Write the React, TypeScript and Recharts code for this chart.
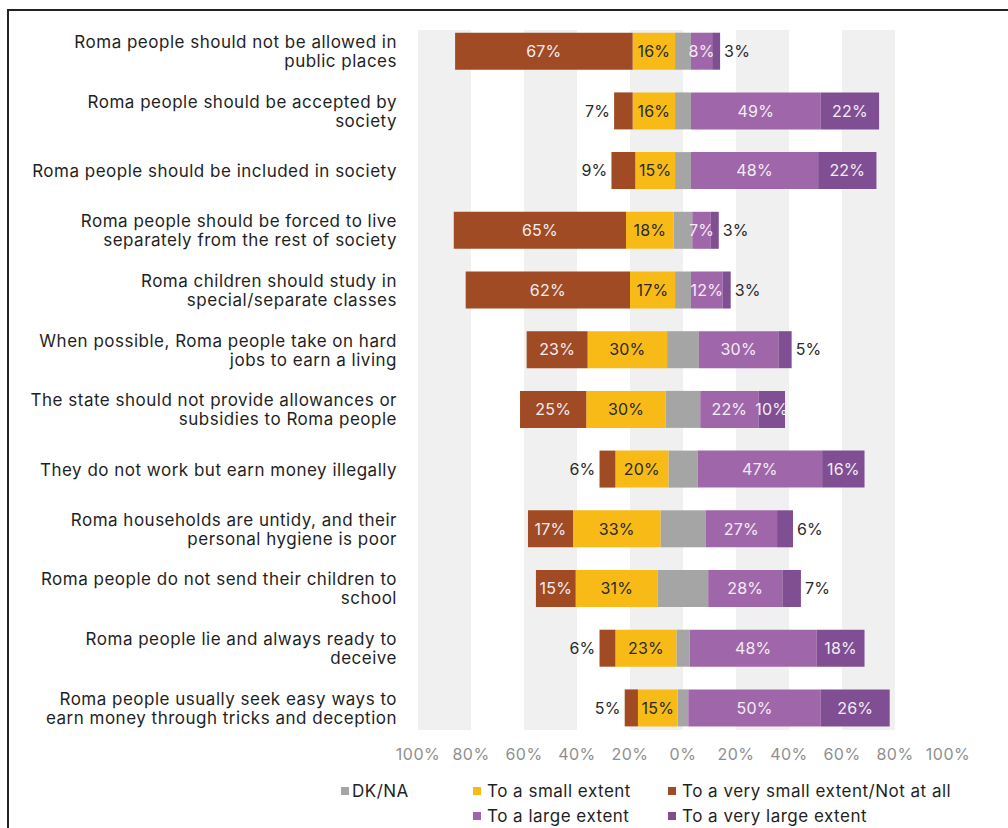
import React from 'react';
import {
  BarChart,
  Bar,
  XAxis,
  YAxis,
  CartesianGrid,
  LabelList,
  Legend,
} from 'recharts';

const categories = [
  'Roma people should not be allowed in\npublic places',
  'Roma people should be accepted by\nsociety',
  'Roma people should be included in society',
  'Roma people should be forced to live\nseparately from the rest of society',
  'Roma children should study in\nspecial/separate classes',
  'When possible, Roma people take on hard\njobs to earn a living',
  'The state should not provide allowances or\nsubsidies to Roma people',
  'They do not work but earn money illegally',
  'Roma households are untidy, and their\npersonal hygiene is poor',
  'Roma people do not send their children to\nschool',
  'Roma people lie and always ready to\ndeceive',
  'Roma people usually seek easy ways to\nearn money through tricks and deception',
];

const verySmallExtent = [67, 7, 9, 65, 62, 23, 25, 6, 17, 15, 6, 5];
const smallExtent = [16, 16, 15, 18, 17, 30, 30, 20, 33, 31, 23, 15];
const dkNa = [6, 6, 6, 7, 6, 12, 13, 11, 17, 19, 5, 4];
const largeExtent = [8, 49, 48, 7, 12, 30, 22, 47, 27, 28, 48, 50];
const veryLargeExtent = [3, 22, 22, 3, 3, 5, 10, 16, 6, 7, 18, 26];

const xTicks = [-100, -80, -60, -40, -20, 0, 20, 40, 60, 80, 100];

const COLORS = {
  dk: '#A5A5A5',
  small: '#F8BA16',
  verySmall: '#A04B23',
  large: '#A066AA',
  veryLarge: '#7F4E93',
};

const FONT = 'Inter, "Noto Sans", sans-serif';

const data = categories.map((category, i) => ({
  category,
  dkNeg: -dkNa[i] / 2,
  small: -smallExtent[i],
  verySmall: -verySmallExtent[i],
  dkPos: dkNa[i] / 2,
  large: largeExtent[i],
  veryLarge: veryLargeExtent[i],
  smallLabel: smallExtent[i],
  verySmallLabel: verySmallExtent[i],
  largeLabel: largeExtent[i],
  veryLargeLabel: veryLargeExtent[i],
}));

const CategoryTick = (props: any) => {
  const { x, y, payload } = props;
  const lines = String(payload.value).split('\n');
  const lh = 19;
  const start = -((lines.length - 1) * lh) / 2;
  return (
    <text
      x={x}
      y={y}
      textAnchor="end"
      fontSize={17}
      letterSpacing={0.5}
      fill="#1f1f1f"
      fontFamily={FONT}
    >
      {lines.map((l, i) => (
        <tspan key={i} x={x} y={y + start + i * lh} dy="0.36em">
          {l}
        </tspan>
      ))}
    </text>
  );
};

const PercentTick = (props: any) => {
  const { x, y, payload } = props;
  return (
    <text
      x={x}
      y={y}
      dy="0.71em"
      textAnchor="middle"
      fontSize={16}
      letterSpacing={0.5}
      fill="#8f8f8f"
      fontFamily={FONT}
    >
      {`${Math.abs(payload.value)}%`}
    </text>
  );
};

const makeLabel = (mode: 'inside-dark' | 'inside-light' | 'left' | 'right') => (props: any) => {
  const vb = props.viewBox || props;
  const x0 = Number(vb.x ?? props.x);
  const w = Number(vb.width ?? props.width);
  const y0 = Number(vb.y ?? props.y);
  const h = Number(vb.height ?? props.height);
  const value = Number(props.value);
  if (!isFinite(x0) || !isFinite(w) || !value) return null;
  const left = Math.min(x0, x0 + w);
  const right = Math.max(x0, x0 + w);
  const cy = y0 + h / 2;
  const text = `${value}%`;
  const common = { fontSize: 16, fontFamily: FONT, dy: '0.36em', letterSpacing: 0.2 };
  const light = '#f3ecf3';
  const dark = '#2a2a2a';
  const inside = (fill: string) => (
    <text x={(left + right) / 2} y={cy} textAnchor="middle" fill={fill} {...common}>
      {text}
    </text>
  );
  if (mode === 'inside-dark') return inside(dark);
  if (mode === 'inside-light') return inside(light);
  if (value >= 10) return inside(light);
  if (mode === 'left') {
    return (
      <text x={left - 4} y={cy} textAnchor="end" fill={dark} {...common}>
        {text}
      </text>
    );
  }
  return (
    <text x={right + 4} y={cy} textAnchor="start" fill={dark} {...common}>
      {text}
    </text>
  );
};

const legendSpots: Record<string, { left: number; top: number }> = {
  dkPos: { left: 341, top: 791 },
  small: { left: 473, top: 791 },
  verySmall: { left: 668, top: 791 },
  large: { left: 473, top: 816 },
  veryLarge: { left: 668, top: 816 },
};

const LegendContent = (props: any) => {
  const payload = props.payload || [];
  return (
    <div style={{ position: 'relative', width: 1008, height: 828 }}>
      {payload.map((item: any) => {
        const spot = legendSpots[String(item.dataKey)];
        if (!spot) return null;
        return (
          <div
            key={String(item.dataKey)}
            style={{
              position: 'absolute',
              left: spot.left,
              top: spot.top - 11,
              height: 22,
              display: 'flex',
              alignItems: 'center',
              whiteSpace: 'nowrap',
              fontFamily: FONT,
              fontSize: 17,
              letterSpacing: 0.5,
              color: '#1f1f1f',
            }}
          >
            <span
              style={{
                display: 'inline-block',
                width: 8,
                height: 8,
                background: item.color,
                marginRight: item.dataKey === 'dkPos' ? 3 : 6,
              }}
            />
            {item.value}
          </div>
        );
      })}
    </div>
  );
};

export default function App() {
  return (
    <div
      style={{
        position: 'absolute',
        left: 0,
        top: 0,
        width: 1008,
        height: 828,
        background: '#fff',
        overflow: 'hidden',
      }}
    >
      <div
        style={{
          position: 'absolute',
          left: 7,
          top: 9,
          width: 1100,
          height: 900,
          borderLeft: '2px solid #222',
          borderTop: '2px solid #222',
        }}
      />
      <div style={{ position: 'absolute', left: 0, top: 0 }}>
        <BarChart
          width={1008}
          height={828}
          data={data}
          layout="vertical"
          stackOffset="sign"
          barSize={37}
          margin={{ top: 30, right: 60, bottom: 68, left: 0 }}
        >
          <CartesianGrid
            horizontal={false}
            vertical
            stroke="none"
            verticalFill={['#f0f0f0', 'rgba(255,255,255,0)']}
            fillOpacity={1}
          />
          <XAxis
            type="number"
            domain={[-100, 100]}
            ticks={xTicks}
            axisLine={false}
            tickLine={false}
            tickSize={0}
            tickMargin={19}
            height={30}
            tick={<PercentTick />}
            interval={0}
          />
          <YAxis
            type="category"
            dataKey="category"
            width={418}
            axisLine={false}
            tickLine={false}
            tickSize={0}
            tickMargin={21}
            interval={0}
            padding={{ top: -8.3, bottom: -8.1 }}
            tick={<CategoryTick />}
          />
          <Legend
            layout="horizontal"
            verticalAlign="middle"
            align="center"
            wrapperStyle={{ left: 0, top: 0, width: 1008, height: 828, pointerEvents: 'none' }}
            content={<LegendContent />}
          />
          <Bar dataKey="dkNeg" stackId="s" fill={COLORS.dk} legendType="none" isAnimationActive={false} />
          <Bar dataKey="small" name="To a small extent" stackId="s" fill={COLORS.small} isAnimationActive={false}>
            <LabelList dataKey="smallLabel" content={makeLabel('inside-dark')} />
          </Bar>
          <Bar
            dataKey="verySmall"
            name="To a very small extent/Not at all"
            stackId="s"
            fill={COLORS.verySmall}
            isAnimationActive={false}
          >
            <LabelList dataKey="verySmallLabel" content={makeLabel('left')} />
          </Bar>
          <Bar dataKey="dkPos" name="DK/NA" stackId="s" fill={COLORS.dk} isAnimationActive={false} />
          <Bar dataKey="large" name="To a large extent" stackId="s" fill={COLORS.large} isAnimationActive={false}>
            <LabelList dataKey="largeLabel" content={makeLabel('inside-light')} />
          </Bar>
          <Bar
            dataKey="veryLarge"
            name="To a very large extent"
            stackId="s"
            fill={COLORS.veryLarge}
            isAnimationActive={false}
          >
            <LabelList dataKey="veryLargeLabel" content={makeLabel('right')} />
          </Bar>
        </BarChart>
      </div>
    </div>
  );
}
